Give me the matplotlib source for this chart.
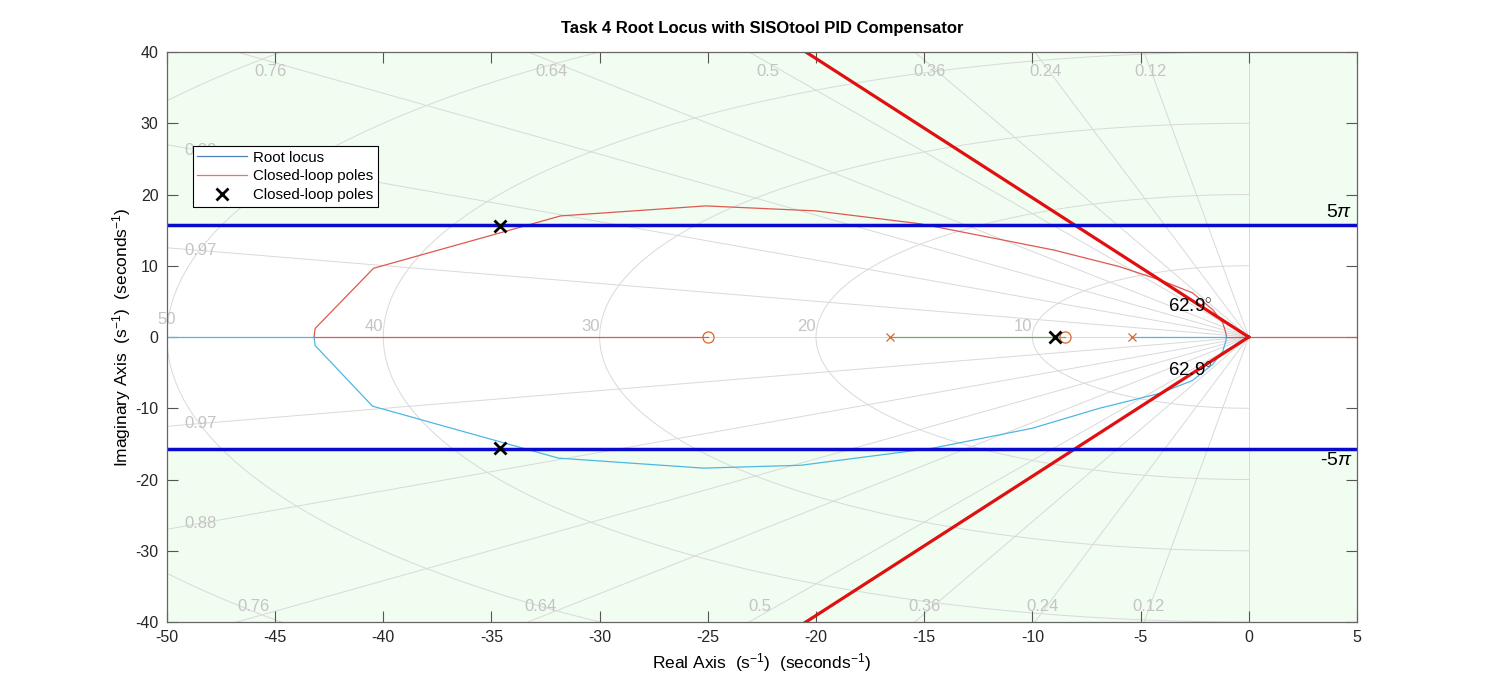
import numpy as np
import matplotlib
matplotlib.use("Agg")
import matplotlib.pyplot as plt

plt.rcParams['font.family'] = ['Liberation Sans', 'DejaVu Sans']
plt.rcParams['mathtext.fontset'] = 'custom'
plt.rcParams['mathtext.rm'] = 'Liberation Sans'
plt.rcParams['mathtext.it'] = 'Liberation Sans:italic'
plt.rcParams['axes.unicode_minus'] = False

# root locus branches
upper_x = [-43.2, -43.15, -40.45, -31.8, -25.1, -20.0, -15.2, -12.0, -9.0, -6.0, -4.1, -2.6, -1.65, -1.2, -1.05, -1.03]
upper_y = [0.0, 1.2, 9.65, 17.0, 18.4, 17.7, 15.9, 14.0, 12.2, 9.9, 8.0, 6.2, 3.8, 2.0, 0.5, 0.0]
lower_x = [-43.2, -43.15, -40.5, -31.9, -25.2, -20.7, -14.6, -10.0, -6.9, -4.1, -2.6, -1.65, -1.2, -1.05, -1.03]
lower_y = [0.0, -1.2, -9.7, -17.0, -18.4, -18.0, -15.6, -12.8, -10.0, -7.9, -6.1, -3.8, -2.0, -0.5, 0.0]

# real-axis segments
seg_cyan = [(-50, -43.2), (-5.4, -1.03)]
seg_red = [(-43.2, -25.0), (-1.03, 5.0)]
seg_green = [(-16.58, -8.5)]

ol_poles = [-16.58, -5.4]
ol_zeros = [-25.0, -8.5]
cl_x = [-34.6, -34.6, -8.96]
cl_y = [15.6, -15.6, 0.0]

# design requirements
zeta_angle = 62.9
peak_im = 5 * np.pi

# s-grid
zetas = [0.12, 0.24, 0.36, 0.5, 0.64, 0.76, 0.88, 0.97]
top_zetas = [0.12, 0.24, 0.36, 0.5, 0.64, 0.76]
side_zetas = [0.88, 0.97]
wns = [10, 20, 30, 40, 50, 60]
wn_labels = [10, 20, 30, 40]

fig = plt.figure(figsize=(15, 7), dpi=100)
ax = fig.add_axes([0.1113, 0.1114, 0.7933, 0.8143])
ax.set_xlim(-50, 5)
ax.set_ylim(-40, 40)

green_bg = '#F0FDF0'
ax.axhspan(peak_im, 40, color=green_bg, zorder=0, lw=0)
ax.axhspan(-40, -peak_im, color=green_bg, zorder=0, lw=0)

grid_c = '#D9D9D9'
lab_c = '#C4C4C4'
th = np.linspace(np.pi / 2, 3 * np.pi / 2, 400)
for wn in wns:
    ax.plot(wn * np.cos(th), wn * np.sin(th), color=grid_c, lw=0.7, zorder=1)
for wn in wn_labels:
    ax.text(-wn, 0.4, str(wn), color=lab_c, fontsize=12, ha='right', va='bottom', zorder=1)
# the 50 label sits on the left edge, lifted a little off the "0" tick label
ax.text(-50, 1.4, '50', color=lab_c, fontsize=12, ha='center', va='bottom', zorder=1, clip_on=False)
for z in zetas:
    a = np.arccos(z)
    r = 200
    ax.plot([0, -r * np.cos(a)], [0, r * np.sin(a)], color=grid_c, lw=0.7, zorder=1)
    ax.plot([0, -r * np.cos(a)], [0, -r * np.sin(a)], color=grid_c, lw=0.7, zorder=1)
for z in top_zetas:
    t = np.tan(np.arccos(z))
    ax.text(-37.2 / t - 3 * z ** 2, 37.2, str(z), color=lab_c, fontsize=12, ha='center', va='center', zorder=1)
    ax.text(-37.85 / t - 3 * z ** 2, -37.85, str(z), color=lab_c, fontsize=12, ha='center', va='center', zorder=1)
for z in side_zetas:
    t = np.tan(np.arccos(z))
    ax.text(-48.45, 48.45 * t, str(z), color=lab_c, fontsize=12, ha='center', va='center', zorder=1)
    ax.text(-48.45, -48.45 * t, str(z), color=lab_c, fontsize=12, ha='center', va='center', zorder=1)
ax.axhline(0, color=grid_c, lw=0.7, zorder=1)
ax.axvline(0, color=grid_c, lw=0.7, zorder=1)

red_c = '#DC5A50'
cyan_c = '#4DB8E2'
green_c = '#6FAE52'
ax.plot(upper_x, upper_y, color=red_c, lw=0.9, zorder=3)
ax.plot(lower_x, lower_y, color=cyan_c, lw=0.9, zorder=3)
for a, b in seg_cyan:
    ax.plot([a, b], [0, 0], color=cyan_c, lw=0.9, zorder=3)
for a, b in seg_red:
    ax.plot([a, b], [0, 0], color=red_c, lw=0.9, zorder=3)
for a, b in seg_green:
    ax.plot([a, b], [0, 0], color=green_c, lw=0.9, zorder=3)

orange = '#D9652B'
ax.plot(ol_poles, [0] * len(ol_poles), 'x', color=orange, ms=6, mew=0.9, zorder=4)
ax.plot(ol_zeros, [0] * len(ol_zeros), 'o', mfc='none', mec=orange, ms=8, mew=0.9, zorder=4)

# requirement lines
t = np.tan(np.radians(zeta_angle))
ax.plot([0, -60], [0, 60 * t], color='#E01010', lw=2.3, zorder=5)
ax.plot([0, -60], [0, -60 * t], color='#E01010', lw=2.3, zorder=5)
ax.axhline(peak_im, color='#0A0ACC', lw=2.5, zorder=5)
ax.axhline(-peak_im, color='#0A0ACC', lw=2.5, zorder=5)
ax.text(4.8, peak_im + 0.6, r'5$\pi$', fontsize=14, ha='right', va='bottom', zorder=6)
ax.text(4.8, -peak_im - 0.5, r'-5$\pi$', fontsize=14, ha='right', va='top', zorder=6)
ax.text(-2.7, 4.2, r'62.9$^{\circ}$', fontsize=13.5, ha='center', va='center', zorder=6)
ax.text(-2.7, -4.8, r'62.9$^{\circ}$', fontsize=13.5, ha='center', va='center', zorder=6)

ax.plot(cl_x, cl_y, 'x', color='black', ms=9, mew=2, zorder=7)

# legend proxies
h1, = ax.plot([], [], color='#4F81BD', lw=0.9, label='Root locus')
h2, = ax.plot([], [], color='#E8775A', lw=0.9, label='Closed-loop poles')
h3, = ax.plot([], [], 'x', color='black', ms=8, mew=2, label='Closed-loop poles')
leg = ax.legend(handles=[h1, h2, h3], loc='upper left', bbox_to_anchor=(0.0218, 0.835),
                borderaxespad=0, fontsize=10.8, fancybox=False, edgecolor='black',
                framealpha=1, handlelength=3.3, handletextpad=0.4, labelspacing=0.32,
                borderpad=0.3)
leg.get_frame().set_linewidth(0.8)
leg.set_zorder(10)

ax.set_xticks(np.arange(-50, 6, 5))
ax.set_yticks(np.arange(-40, 41, 10))
ax.tick_params(direction='in', length=8, width=0.8, color='#555555', labelsize=11.5,
               top=True, right=True, labelcolor='#262626', pad=6)
for s in ax.spines.values():
    s.set_color('#666666')
    s.set_linewidth(0.9)
    s.set_zorder(8)

ax.set_title('Task 4 Root Locus with SISOtool PID Compensator', fontsize=12, fontweight='bold', pad=14)
ax.set_xlabel(r'Real Axis  (s$^{-1}$)  (seconds$^{-1}$)', fontsize=12.5, labelpad=4)
ax.set_ylabel(r'Imaginary Axis  (s$^{-1}$)  (seconds$^{-1}$)', fontsize=12.5, labelpad=2)

fig.savefig('out.png', dpi=100)
